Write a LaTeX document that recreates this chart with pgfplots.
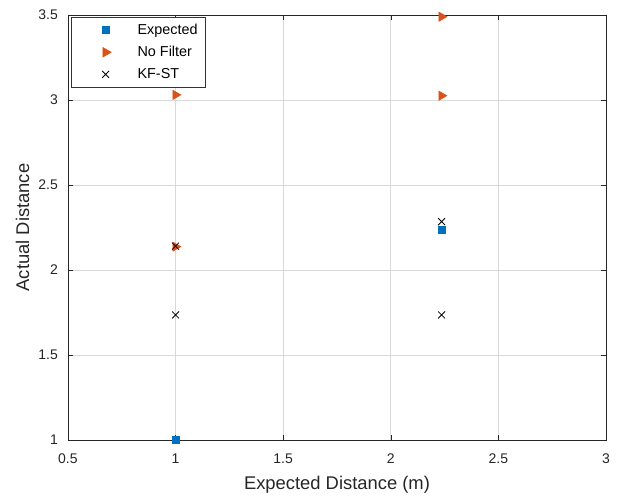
\documentclass[border=0pt]{standalone}
\usepackage{pgfplots}
\pgfplotsset{compat=1.18}
\usepackage{fontspec}
\setmainfont{Liberation Sans}
\definecolor{mblue}{rgb}{0,0.447,0.741}
\definecolor{morange}{rgb}{0.85,0.325,0.098}
\definecolor{maxis}{rgb}{0.15,0.15,0.15}
\begin{document}
\begin{tikzpicture}
\begin{axis}[
  scale only axis,
  width=404pt, height=319pt,
  xmin=0.5, xmax=3, ymin=1, ymax=3.5,
  xtick={0.5,1,1.5,2,2.5,3},
  ytick={1,1.5,2,2.5,3,3.5},
  /pgf/number format/assume math mode=true,
  ticklabel style={font=\fontsize{10.5}{12}\selectfont, text=maxis},
  xticklabel style={yshift=-7pt},
  yticklabel style={xshift=-4pt},
  xlabel={Expected Distance (m)},
  ylabel={Actual Distance},
  label style={font=\fontsize{13.8}{16}\selectfont, text=maxis},
  xlabel style={yshift=-2.5pt},
  ylabel style={yshift=0pt},
  grid=major,
  major grid style={draw=black!15, line width=0.5pt},
  axis line style={draw=maxis, line width=0.5pt},
  tick style={draw=maxis},
  tick align=inside,
  major tick length=3.5pt,
  legend style={at={(0.005,0.995)}, anchor=north west, draw=black!80, line width=0.6pt,
    font=\fontsize{10.8}{12}\selectfont, fill=white,
    row sep=2.6pt, inner xsep=4pt, inner ysep=2.5pt,
    nodes={text height=8pt, text depth=2pt}},
  legend cell align=left,
  legend image code/.code={\path[draw=none,fill=none] (0pt,0pt) -- (44pt,0pt); \draw[#1] plot coordinates {(22pt,0pt)};},
]
\addplot[only marks, mark=square*, mark size=2.7pt, color=mblue, mark options={fill=mblue, draw=mblue}]
  coordinates {(1,1) (2.236,2.236)};
\addlegendentry{Expected}
\addplot[only marks, mark=triangle*, mark size=4pt, color=morange, mark options={rotate=-90, fill=morange, draw=morange}]
  coordinates {(1,3.03) (1,2.137) (2.236,3.49) (2.236,3.025)};
\addlegendentry{No Filter}
\addplot[only marks, mark=x, mark size=3.7pt, color=black, mark options={line width=0.6pt}]
  coordinates {(1,2.14) (1,1.735) (2.236,2.284) (2.236,1.735)};
\addlegendentry{KF-ST}
\end{axis}
\path ([xshift=-51pt,yshift=-42.75pt]current axis.south west) rectangle ([xshift=9pt,yshift=11.25pt]current axis.north east);
\end{tikzpicture}
\end{document}
